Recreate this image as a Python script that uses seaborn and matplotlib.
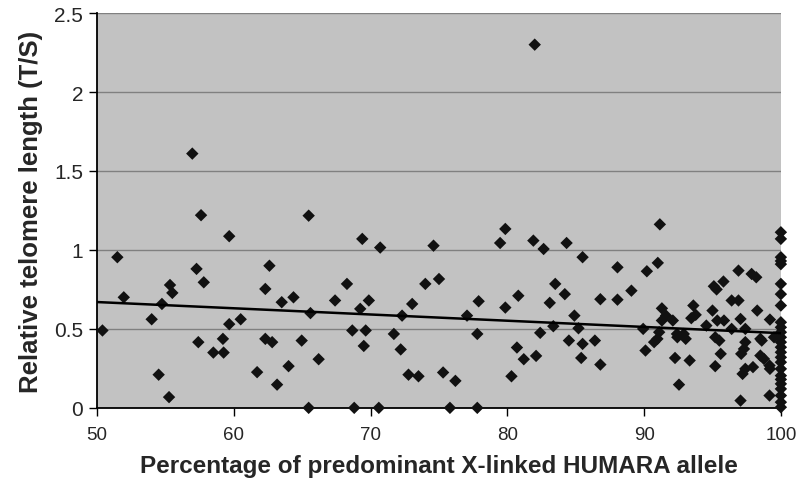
import numpy as np
import pandas as pd
import matplotlib
matplotlib.use('Agg')
import matplotlib.pyplot as plt
import seaborn as sns

# percentage of predominant allele (x) and relative telomere length (y)
pct = [
    82.0, 56.96, 57.6, 59.66, 51.48, 57.27, 57.8, 55.33, 55.5, 51.95, 54.74,
    53.99, 60.5, 59.66, 50.39, 57.4, 59.2, 58.5, 59.25, 54.5, 61.7, 55.26,
    62.6, 62.3, 62.3,
    65.47, 69.39, 70.7, 74.6, 63.5, 64.36, 67.4, 68.27, 69.87, 69.24, 65.6,
    73.04, 74.0, 75.0, 72.3, 68.66, 69.64, 71.7, 62.8, 64.96, 69.5, 72.2,
    66.2, 64.0, 63.16, 72.77, 73.5, 65.47, 68.8, 70.6,
    79.85, 79.47, 81.9, 82.65, 84.33, 85.5, 77.9, 77.05, 79.85, 80.8, 83.5,
    84.2, 83.1, 84.9, 86.8, 83.36, 85.2, 77.8, 82.4, 84.5, 85.5, 86.4, 80.7,
    81.2, 82.1, 85.4, 86.8, 75.3, 76.2, 80.3, 75.8, 77.8,
    91.15, 88.05, 90.2, 91.0, 89.07, 88.05, 96.9, 97.86, 98.2, 95.1, 95.8,
    95.3, 96.4, 96.9, 91.3, 91.6, 91.3, 92.1, 93.6, 93.77, 93.45, 95.0,
    95.35, 95.84, 98.27, 97.05, 94.55, 96.4, 99.2, 97.4, 89.93, 91.1, 92.4,
    92.9, 90.97, 90.73, 92.43, 93.04, 95.2, 95.5, 97.4, 98.5, 98.6, 99.5,
    97.3, 98.5, 98.76, 90.1, 92.26, 93.33, 95.6, 95.2, 97.1, 97.96, 97.4,
    97.2, 99.17, 99.2, 92.55, 97.05, 99.17,
    100, 100, 100, 100, 100, 100, 100, 100, 100, 100, 100, 100, 100, 100,
    100, 100, 100, 100, 100, 100, 100, 100, 100, 100, 100,
]
telomere = [
    2.30, 1.61, 1.22, 1.087, 0.954, 0.88, 0.795, 0.778, 0.728, 0.70, 0.658,
    0.561, 0.561, 0.53, 0.49, 0.416, 0.437, 0.35, 0.35, 0.21, 0.226, 0.068,
    0.90, 0.753, 0.437,
    1.217, 1.07, 1.015, 1.027, 0.669, 0.70, 0.68, 0.785, 0.68, 0.627, 0.60,
    0.658, 0.785, 0.816, 0.584, 0.49, 0.49, 0.468, 0.416, 0.426, 0.392, 0.37,
    0.308, 0.264, 0.147, 0.21, 0.20, 0.0, 0.0, 0.0,
    1.133, 1.044, 1.059, 1.006, 1.044, 0.954, 0.675, 0.584, 0.635, 0.71,
    0.785, 0.72, 0.665, 0.584, 0.688, 0.517, 0.504, 0.468, 0.475, 0.426,
    0.405, 0.426, 0.382, 0.308, 0.329, 0.316, 0.274, 0.224, 0.171, 0.20,
    0.0, 0.0,
    1.162, 0.89, 0.865, 0.918, 0.742, 0.685, 0.869, 0.848, 0.827, 0.77, 0.80,
    0.75, 0.68, 0.68, 0.63, 0.584, 0.553, 0.553, 0.648, 0.589, 0.568, 0.616,
    0.553, 0.553, 0.616, 0.563, 0.521, 0.50, 0.559, 0.50, 0.50, 0.479, 0.468,
    0.468, 0.437, 0.416, 0.447, 0.437, 0.447, 0.426, 0.416, 0.437, 0.426,
    0.447, 0.373, 0.331, 0.31, 0.363, 0.316, 0.30, 0.342, 0.264, 0.342,
    0.258, 0.247, 0.215, 0.268, 0.247, 0.147, 0.046, 0.078,
    1.112, 1.07, 0.954, 0.93, 0.91, 0.785, 0.72, 0.648, 0.542, 0.51, 0.479,
    0.447, 0.416, 0.384, 0.352, 0.32, 0.289, 0.247, 0.204, 0.18, 0.152,
    0.12, 0.078, 0.036, 0.004,
]

trend_x = [50, 100]
trend_y = [0.67, 0.473]

df = pd.DataFrame({'pct': pct, 'tl': telomere})
trend = pd.DataFrame({'pct': trend_x, 'tl': trend_y})

sns.set_style('white')
plt.rcParams['font.family'] = ['Liberation Sans', 'DejaVu Sans']

fig = plt.figure(figsize=(7.96, 4.85), dpi=100)
ax = fig.add_axes([0.122, 0.157, 0.859, 0.814])
ax.set_facecolor('#c2c2c2')

sns.scatterplot(data=df, x='pct', y='tl', marker='D', s=40,
                color='#111111', edgecolor='none', zorder=3,
                clip_on=False, ax=ax)
sns.lineplot(data=trend, x='pct', y='tl', color='black', linewidth=1.8,
             zorder=4, ax=ax)

ax.set_xlim(50, 100)
ax.set_ylim(0, 2.5)
ax.set_xticks([50, 60, 70, 80, 90, 100])
ax.set_yticks([0, 0.5, 1, 1.5, 2, 2.5])
ax.set_yticklabels(['0', '0.5', '1', '1.5', '2', '2.5'])

ax.yaxis.grid(True, color='#808080', linewidth=1.0)
ax.set_axisbelow(True)

for side in ['top', 'right']:
    ax.spines[side].set_visible(False)
for side in ['left', 'bottom']:
    ax.spines[side].set_color('black')
    ax.spines[side].set_linewidth(1.3)

ax.tick_params(axis='both', direction='out', length=6, width=1,
               color='black', left=True, bottom=True)
ax.tick_params(axis='y', pad=4, labelsize=15)
ax.tick_params(axis='x', pad=7, labelsize=13.5)

ax.set_xlabel('Percentage of predominant X-linked HUMARA allele',
              fontsize=17.5, fontweight='bold', labelpad=8)
ax.set_ylabel('Relative telomere length (T/S)',
              fontsize=18.5, fontweight='bold', labelpad=8)

fig.savefig('out.png', dpi=100, facecolor='white')
